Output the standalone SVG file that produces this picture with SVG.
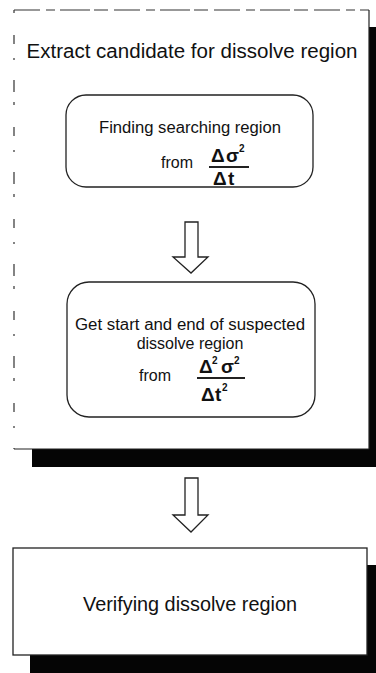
<svg xmlns="http://www.w3.org/2000/svg" width="376" height="673" viewBox="0 0 376 673">
<style>
text{font-family:"Liberation Sans",Arial,sans-serif;fill:#111}
.t{font-size:16px}
.big{font-size:20px}
.m{font-size:19px;font-weight:bold}
.sup{font-size:10px;font-weight:bold}
.box{fill:#fff;stroke:#222;stroke-width:1.3}
.shadow{fill:#050505}
.arrow{fill:#fff;stroke:#222;stroke-width:1.3;stroke-linejoin:miter}
.line{stroke:#222;stroke-width:1.8}
</style>
<rect width="376" height="673" fill="#fff"/>
<g id="outer-extract">
  <rect class="shadow" x="369" y="27" width="7" height="440"/>
  <rect class="shadow" x="32" y="449" width="344" height="18"/>
  <rect x="14" y="10" width="355" height="439" fill="#fff" stroke="none"/>
  <line x1="14" y1="10" x2="369" y2="10" stroke="#333" stroke-width="1.2" stroke-dasharray="26 6 9 5 30 4 14 6"/>
  <line x1="14" y1="10" x2="14" y2="449" stroke="#333" stroke-width="1.2" stroke-dasharray="3 22 9 14 2 20 12 10"/>
  <line x1="369" y1="10" x2="369" y2="449" stroke="#222" stroke-width="1.2"/>
  <line x1="14" y1="449" x2="369" y2="449" stroke="#222" stroke-width="1.2"/>
  <text class="big" x="192" y="58" text-anchor="middle" textLength="331" lengthAdjust="spacingAndGlyphs">Extract candidate for dissolve region</text>
</g>
<g id="finding-region">
  <rect class="box" x="66" y="95" width="247" height="92" rx="20"/>
  <text class="t" x="190" y="133" text-anchor="middle" textLength="182" lengthAdjust="spacingAndGlyphs">Finding searching region</text>
  <text class="t" x="177" y="168" text-anchor="middle">from</text>
  <text class="m" x="211" y="162">Δ</text>
  <text class="m" x="226" y="162">σ</text>
  <text class="sup" x="239" y="152">2</text>
  <line class="line" x1="209" y1="167" x2="249" y2="167"/>
  <text class="m" x="213" y="185">Δ</text>
  <text class="m" x="228" y="185">t</text>
</g>
<g id="get-start-end">
  <rect class="box" x="67" y="282" width="248" height="135" rx="22"/>
  <text class="t" x="190" y="330" text-anchor="middle" textLength="230" lengthAdjust="spacingAndGlyphs">Get start and end of suspected</text>
  <text class="t" x="190" y="349" text-anchor="middle">dissolve region</text>
  <text class="t" x="155" y="381" text-anchor="middle">from</text>
  <text class="m" x="199" y="373">Δ</text>
  <text class="sup" x="212" y="364">2</text>
  <text class="m" x="221" y="373">σ</text>
  <text class="sup" x="234" y="364">2</text>
  <line class="line" x1="197" y1="378" x2="245" y2="378"/>
  <text class="m" x="201" y="401">Δ</text>
  <text class="m" x="215" y="401">t</text>
  <text class="sup" x="222" y="391">2</text>
</g>
<g id="outer-verify">
  <rect class="shadow" x="367" y="565" width="9" height="108"/>
  <rect class="shadow" x="30" y="655" width="346" height="18"/>
  <rect class="box" x="13" y="548" width="354" height="107" stroke-width="1.2"/>
  <text class="big" x="190" y="611" text-anchor="middle" textLength="214" lengthAdjust="spacingAndGlyphs">Verifying dissolve region</text>
</g>
<g id="connectors">
  <polygon class="arrow" points="185,222 198,222 198,257 208,257 191,273 173,257 185,257"/>
  <polygon class="arrow" points="185,478 198,478 198,515 208,515 191,532 173,515 185,515"/>
</g>
</svg>
